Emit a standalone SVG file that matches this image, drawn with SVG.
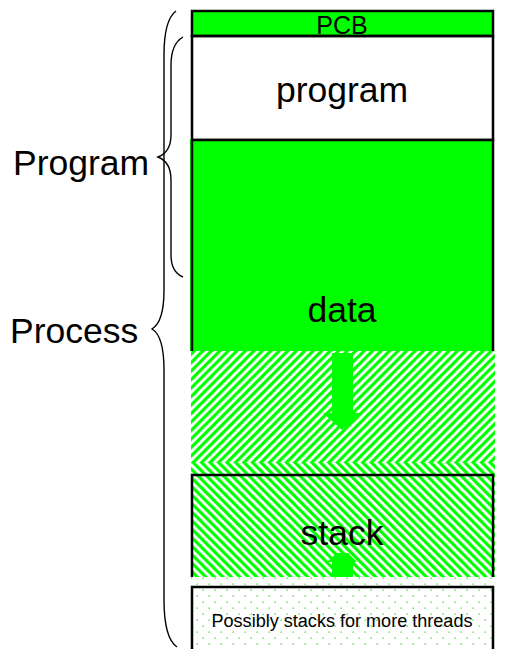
<svg xmlns="http://www.w3.org/2000/svg" width="506" height="649" viewBox="0 0 506 649">
<style>
text{font-family:"Liberation Sans",Arial,sans-serif;fill:#000}
.box{stroke:#000;stroke-width:2.5;fill:none}
.brace{stroke:#000;stroke-width:1.4;fill:none}
.g{fill:#00ff00}
</style>
<defs>
<pattern id="hatchA" patternUnits="userSpaceOnUse" width="6" height="6" patternTransform="rotate(45)">
<rect width="6" height="6" fill="#fff"/><rect width="3.2" height="6" fill="#00ff00"/>
</pattern>
<pattern id="hatchB" patternUnits="userSpaceOnUse" width="6" height="6" patternTransform="rotate(-45)">
<rect width="6" height="6" fill="#fff"/><rect width="3.2" height="6" fill="#00ff00"/>
</pattern>
<pattern id="dots" patternUnits="userSpaceOnUse" x="191" y="578" width="12" height="12">
<rect width="12" height="12" fill="#fff"/>
<rect x="5.5" y="5.5" width="1.3" height="1.3" fill="#22ee22"/>
<rect x="11.5" y="11.5" width="1.3" height="1.3" fill="#22ee22"/>
<rect x="-0.5" y="-0.5" width="1.3" height="1.3" fill="#22ee22"/>
<rect x="11.5" y="-0.5" width="1.3" height="1.3" fill="#22ee22"/>
<rect x="-0.5" y="11.5" width="1.3" height="1.3" fill="#22ee22"/>
</pattern>
</defs>
<rect width="506" height="649" fill="#fff"/>

<g id="pcb">
<rect x="192" y="11" width="301" height="25" class="g"/>
<rect x="192" y="11" width="301" height="25" class="box"/>
<text x="342" y="34" font-size="25" text-anchor="middle">PCB</text>
</g>

<g id="program">
<rect x="192" y="36" width="301" height="104" class="box"/>
<text x="342" y="102" font-size="35.5" text-anchor="middle">program</text>
</g>

<g id="data">
<rect x="190" y="139" width="304" height="212" class="g"/>
<path d="M192,351 V140 H493 V351" class="box"/>
<text x="342" y="322" font-size="35.5" text-anchor="middle">data</text>
</g>

<g id="heap">
<rect x="191" y="351" width="304" height="112" fill="url(#hatchA)"/>
<polygon points="332,353 353,353 353,413 362,413 342,430 323,413 332,413" class="g"/>
</g>

<g id="stack">
<rect x="191" y="463" width="304" height="114" fill="url(#hatchB)"/>
<path d="M192,577 V475 H493 V577" class="box"/>
<text x="342" y="545" font-size="35.5" text-anchor="middle">stack</text>
<polygon points="332,577 332,562 327,562 337,553 348,553 357,562 353,562 353,577" class="g"/>
</g>

<g id="threads">
<rect x="191" y="577" width="304" height="72" fill="url(#dots)"/>
<path d="M192,649 V587 H493 V649" class="box"/>
<text x="342" y="627" font-size="18" text-anchor="middle" textLength="261" lengthAdjust="spacingAndGlyphs">Possibly stacks for more threads</text>
</g>

<g id="connectors">
<path class="brace" d="M176,11 Q164,20 164,55 L164,290 Q164,322 152,329 Q164,336 164,370 L164,600 Q164,638 177,647"/>
<path class="brace" d="M183,37 Q171,44 171,65 L171,135 Q171,152 158,157 Q171,162 171,180 L171,255 Q171,272 183,277"/>
</g>

<g id="labels">
<text x="13" y="175" font-size="35.5">Program</text>
<text x="10" y="343" font-size="35.5">Process</text>
</g>
</svg>
